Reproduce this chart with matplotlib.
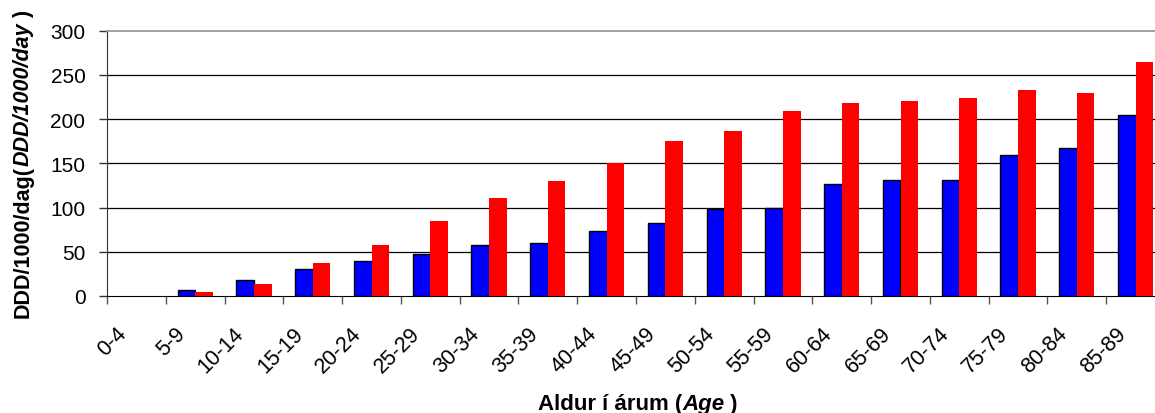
import numpy as np
import matplotlib.pyplot as plt
from matplotlib.transforms import IdentityTransform, ScaledTranslation

plt.rcParams['font.family'] = ['Liberation Sans', 'DejaVu Sans']

# age groups and DDD/1000/day values
ages = ['0-4', '5-9', '10-14', '15-19', '20-24', '25-29', '30-34', '35-39', '40-44',
        '45-49', '50-54', '55-59', '60-64', '65-69', '70-74', '75-79', '80-84', '85-89']
blue_vals = [0, 7, 18, 30, 40, 48, 58, 60, 73, 83, 98, 100, 126, 131, 131, 159, 167, 204]
red_vals = [0, 4, 13, 37, 58, 85, 111, 130, 150, 175, 186, 209, 218, 220, 224, 233, 229, 264]
yticks = [0, 50, 100, 150, 200, 250, 300]

W, H = 1155, 414
fig = plt.figure(figsize=(W / 100, H / 100), dpi=100)
# plot area runs a little past the right edge of the picture (cropped original)
ax = fig.add_axes([107 / W, 117 / H, 1058 / W, 265.5 / H])

x = np.arange(len(ages))
w = 0.3
ax.bar(x - w / 2, blue_vals, w, color='#0000ff', edgecolor='black',
       linewidth=[1 if v > 0 else 0 for v in blue_vals], zorder=3)
ax.bar(x + w / 2, red_vals, w, color='#ff0000', edgecolor='none', zorder=3)

ax.set_xlim(-0.5, len(ages) - 0.5)
ax.set_ylim(0, 300)
for v in yticks[1:-1]:
    ax.axhline(v, color='black', linewidth=0.9, zorder=1)

ax.spines['right'].set_visible(False)
ax.spines['top'].set_color('#999999')
ax.spines['top'].set_linewidth(1.3)
ax.spines['left'].set_color('#333333')
ax.spines['bottom'].set_color('black')

ax.set_yticks(yticks)
ax.tick_params(axis='y', length=6, width=1, color='#333333', pad=9.5, labelsize=15)

ax.set_xticks(x)
ax.set_xticklabels(ages, rotation=45, ha='right', va='center', rotation_mode='anchor')
ax.set_xticks(np.arange(-0.5, len(ages), 1), minor=True)
ax.tick_params(axis='x', which='major', length=0, pad=24.5, labelsize=15.5)
ax.tick_params(axis='x', which='minor', length=6, width=1, color='#555555')
shift = ScaledTranslation(-13 / 100, 0, fig.dpi_scale_trans)
for lab in ax.get_xticklabels():
    lab.set_transform(lab.get_transform() + shift)


def rich_text(cx, cy, pieces, size, rotation):
    # bold text with some italic parts, centred on (cx, cy) in pixels
    renderer = fig.canvas.get_renderer()
    widths = []
    for s, st in pieces:
        t = fig.text(0, 0, s, fontsize=size, fontweight='bold', style=st)
        widths.append(t.get_window_extent(renderer).width)
        t.remove()
    ang = np.deg2rad(rotation)
    d = np.array([np.cos(ang), np.sin(ang)])
    pos = np.array([cx, cy]) - d * sum(widths) / 2
    for (s, st), wd in zip(pieces, widths):
        fig.text(pos[0], pos[1], s, fontsize=size, fontweight='bold', style=st,
                 rotation=rotation, rotation_mode='anchor', ha='left', va='baseline',
                 transform=IdentityTransform())
        pos = pos + d * wd


rich_text(28.5, H - 164, [('DDD/1000/dag(', 'normal'), ('DDD/1000/day', 'italic'), (' )', 'normal')],
          15.5, 90)
rich_text(638, 4, [('Aldur í árum (', 'normal'), ('Age', 'italic'), (' )', 'normal')], 16, 0)

fig.savefig('out.png', dpi=100)
